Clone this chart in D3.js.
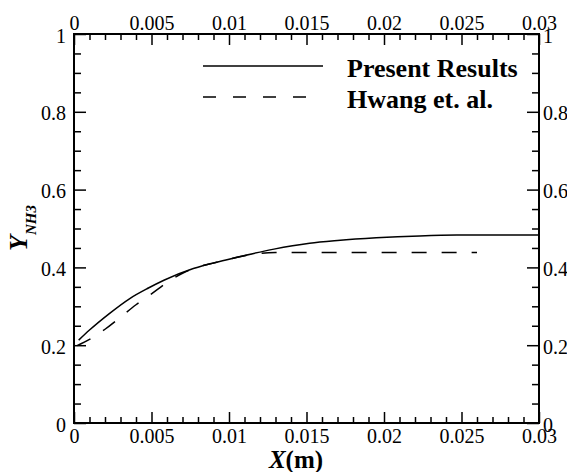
<!DOCTYPE html>
<html><head><meta charset="utf-8">
<script src="https://cdn.jsdelivr.net/npm/d3@7"></script>
<style>
body{margin:0;background:#fff;}
</style>
</head><body>
<svg id="chart" width="567" height="472"></svg>
<script>
// ---- data ----
const xPresent = [0.0003, 0.001, 0.0023, 0.0036, 0.0048, 0.0058, 0.0077, 0.0098, 0.0116, 0.0129, 0.0152, 0.017, 0.0195, 0.0223, 0.0247, 0.027, 0.03];
const yPresent = [0.213, 0.239, 0.282, 0.320, 0.347, 0.367, 0.397, 0.419, 0.436, 0.447, 0.462, 0.469, 0.476, 0.481, 0.483, 0.483, 0.483];

const xHwang = [0.0002, 0.001, 0.002, 0.003, 0.004, 0.005, 0.006, 0.007, 0.008, 0.009, 0.010, 0.011, 0.012, 0.013, 0.018, 0.022, 0.026];
const yHwang = [0.199, 0.215, 0.241, 0.272, 0.304, 0.332, 0.361, 0.385, 0.401, 0.411, 0.421, 0.430, 0.436, 0.438, 0.438, 0.438, 0.438];

const xTickValues = [0, 0.005, 0.01, 0.015, 0.02, 0.025, 0.03];
const xTickLabels = ["0", "0.005", "0.01", "0.015", "0.02", "0.025", "0.03"];
const yTickValues = [0, 0.2, 0.4, 0.6, 0.8, 1];
const yTickLabels = ["0", "0.2", "0.4", "0.6", "0.8", "1"];
const seriesNames = ["Present Results", "Hwang et. al."];

const FONT = "'Liberation Serif', Tinos, 'Times New Roman', 'Nimbus Roman', 'DejaVu Serif', serif";

// ---- layout ----
const svg = d3.select("#chart");
svg.append("rect").attr("width", 567).attr("height", 472).attr("fill", "#fff");

const x = d3.scaleLinear().domain([0, 0.03]).range([74, 539]);
const y = d3.scaleLinear().domain([0, 1]).range([423, 34]);

const xMinor = d3.range(0, 31).map(i => i * 0.001).filter((d, i) => i % 5 !== 0);
const yMinor = d3.range(0, 21).map(i => i * 0.05).filter((d, i) => i % 4 !== 0);

function styleAxis(g) {
  g.select(".domain").remove();
  g.attr("font-family", FONT).attr("font-size", 20);
  g.selectAll("line").attr("stroke", "#000").attr("stroke-width", 1.5);
  g.selectAll("text").attr("font-family", FONT).attr("font-size", 20).attr("fill", "#000");
}

// bottom
svg.append("g").attr("transform", "translate(0,423)")
  .call(d3.axisBottom(x).tickValues(xTickValues).tickSize(-11).tickFormat((d, i) => xTickLabels[i]))
  .call(styleAxis)
  .call(g => g.selectAll("text").attr("y", 20).attr("dy", null));
svg.append("g").attr("transform", "translate(0,423)")
  .call(d3.axisBottom(x).tickValues(xMinor).tickSize(-6).tickFormat(""))
  .call(styleAxis);
// top
svg.append("g").attr("transform", "translate(0,34)")
  .call(d3.axisTop(x).tickValues(xTickValues).tickSize(-11).tickFormat((d, i) => xTickLabels[i]))
  .call(styleAxis)
  .call(g => g.selectAll("text").attr("y", -4).attr("dy", null));
svg.append("g").attr("transform", "translate(0,34)")
  .call(d3.axisTop(x).tickValues(xMinor).tickSize(-6).tickFormat(""))
  .call(styleAxis);
// left
svg.append("g").attr("transform", "translate(74,0)")
  .call(d3.axisLeft(y).tickValues(yTickValues).tickSize(-12).tickFormat((d, i) => yTickLabels[i]))
  .call(styleAxis)
  .call(g => g.selectAll("text").attr("x", -8).attr("dy", "0.4em"));
svg.append("g").attr("transform", "translate(74,0)")
  .call(d3.axisLeft(y).tickValues(yMinor).tickSize(-7).tickFormat(""))
  .call(styleAxis);
// right
svg.append("g").attr("transform", "translate(539,0)")
  .call(d3.axisRight(y).tickValues(yTickValues).tickSize(-12).tickFormat((d, i) => yTickLabels[i]))
  .call(styleAxis)
  .call(g => g.selectAll("text").attr("x", 4).attr("dy", "0.4em"));
svg.append("g").attr("transform", "translate(539,0)")
  .call(d3.axisRight(y).tickValues(yMinor).tickSize(-7).tickFormat(""))
  .call(styleAxis);

// frame
svg.append("rect")
  .attr("x", x(0)).attr("y", y(1))
  .attr("width", x(0.03) - x(0)).attr("height", y(0) - y(1))
  .attr("fill", "none").attr("stroke", "#000").attr("stroke-width", 2);

// curves
const line = d3.line().x(d => x(d[0])).y(d => y(d[1])).curve(d3.curveMonotoneX);
svg.append("path")
  .datum(xPresent.map((v, i) => [v, yPresent[i]]))
  .attr("d", line).attr("fill", "none").attr("stroke", "#000").attr("stroke-width", 1.5);
svg.append("path")
  .datum(xHwang.map((v, i) => [v, yHwang[i]]))
  .attr("d", line).attr("fill", "none").attr("stroke", "#000").attr("stroke-width", 1.5)
  .attr("stroke-dasharray", "15,15");

// legend
const lg = svg.append("g");
const legendRows = [{y: 66, dash: null}, {y: 97, dash: "13,17"}];
legendRows.forEach((r, i) => {
  lg.append("line").attr("x1", 203).attr("x2", 323).attr("y1", r.y).attr("y2", r.y)
    .attr("stroke", "#000").attr("stroke-width", 1.5)
    .attr("stroke-dasharray", r.dash);
  lg.append("text").attr("x", 347).attr("y", r.y + 11)
    .attr("font-family", FONT)
    .attr("font-size", 26).attr("font-weight", "bold")
    .text(seriesNames[i]);
});

// axis titles
const xt = svg.append("text").attr("x", 296).attr("y", 468)
  .attr("font-family", FONT)
  .attr("text-anchor", "middle").attr("font-size", 25).attr("font-weight", "bold");
xt.append("tspan").attr("font-style", "italic").text("X");
xt.append("tspan").text("(m)");

const yt = svg.append("text").attr("transform", "translate(27,251) rotate(-90)")
  .attr("font-family", FONT)
  .attr("font-size", 26).attr("font-weight", "bold");
yt.append("tspan").attr("font-style", "italic").text("Y");
yt.append("tspan").attr("font-style", "italic").attr("font-size", 15).attr("dy", 9).text("NH3");
</script>
</body></html>
